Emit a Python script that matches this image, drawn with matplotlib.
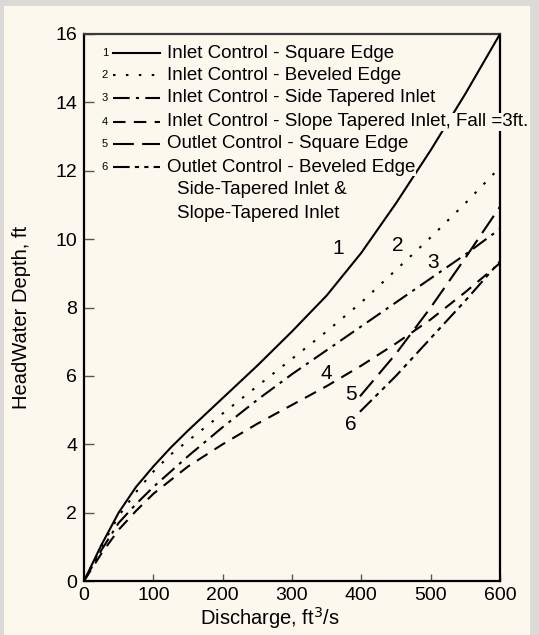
import matplotlib.pyplot as plt
from matplotlib.lines import Line2D
from matplotlib.patches import Rectangle

# discharge (ft3/s) and headwater depth (ft)
q_inlet = [0, 25, 50, 75, 100, 125, 150, 200, 250, 300, 350, 400, 450, 500, 550, 600]
hw_square = [0, 1.05, 2.0, 2.75, 3.35, 3.9, 4.4, 5.35, 6.3, 7.3, 8.35, 9.6, 11.05, 12.6, 14.25, 16.0]
hw_beveled = [0, 1.0, 1.9, 2.6, 3.2, 3.7, 4.1, 4.9, 5.7, 6.5, 7.3, 8.15, 9.1, 10.05, 11.05, 12.1]
hw_side = [0, 0.9, 1.7, 2.25, 2.75, 3.2, 3.65, 4.5, 5.3, 6.05, 6.75, 7.45, 8.15, 8.85, 9.55, 10.3]
hw_slope = [0, 0.8, 1.5, 2.05, 2.55, 2.95, 3.35, 4.0, 4.6, 5.15, 5.7, 6.3, 6.95, 7.65, 8.45, 9.3]

q_outlet = [398, 450, 500, 550, 600]
hw_out_square = [5.4, 6.65, 8.0, 9.45, 10.95]
hw_out_beveled = [4.95, 6.0, 7.1, 8.2, 9.35]

curve_nums = ['1', '2', '3', '4', '5', '6']
num_x = [366, 453, 503, 349, 385, 385]
num_y = [9.74, 9.8, 9.32, 6.07, 5.45, 4.57]

legend_labels = [
    'Inlet Control - Square Edge',
    'Inlet Control - Beveled Edge',
    'Inlet Control - Side Tapered Inlet',
    'Inlet Control - Slope Tapered Inlet, Fall =3ft.',
    'Outlet Control - Square Edge',
    'Outlet Control - Beveled Edge',
]
legend_extra = ['Side-Tapered Inlet &', 'Slope-Tapered Inlet']

cream = '#fcf8ee'
styles = [
    '-',
    (0, (1.2, 5)),
    (0, (8, 3, 1.5, 3)),
    (0, (6, 4)),
    (0, (10, 4)),
    (0, (8, 2.5, 2, 2.5, 2, 2.5)),
]

plt.rcParams['font.family'] = ['Liberation Sans', 'DejaVu Sans']

W, H = 539, 635
fig = plt.figure(figsize=(W / 100, H / 100), dpi=100)
fig.patch.set_facecolor('#dcdad6')
fig.patches.append(Rectangle((4 / W, 0), 526 / W, 1 - 6 / H, transform=fig.transFigure,
                             facecolor=cream, edgecolor='none', zorder=-5))

ax = fig.add_axes([84 / W, 1 - 581 / H, 416 / W, 547 / H])
ax.set_zorder(1)
ax.set_facecolor(cream)

series = [(q_inlet, hw_square), (q_inlet, hw_beveled), (q_inlet, hw_side),
          (q_inlet, hw_slope), (q_outlet, hw_out_square), (q_outlet, hw_out_beveled)]
for (xs, ys), ls in zip(series, styles):
    ax.plot(xs, ys, color='black', lw=1.5, linestyle=ls, zorder=3)

for t, x, y in zip(curve_nums, num_x, num_y):
    ax.text(x, y, t, fontsize=15, ha='center', va='center', zorder=4)

ax.set_xlim(0, 600)
ax.set_ylim(0, 16)
ax.set_xticks(range(0, 601, 100))
ax.set_yticks(range(0, 17, 2))
ax.tick_params(direction='in', length=7, width=1, color='#555555', labelsize=14, pad=5)
ax.tick_params(axis='x', length=5, pad=4)
for s in ax.spines.values():
    s.set_linewidth(1.6)
    s.set_color('black')
ax.spines['top'].set_color('#3a3a3a')

fig.text(22 / W, 1 - 317 / H, 'HeadWater Depth, ft', rotation=90, fontsize=14.5,
         ha='center', va='center')
fig.text(270 / W, 1 - 618 / H, 'Discharge, ft$^3$/s', fontsize=14.5, ha='center', va='center')

# legend drawn by hand, as in the original figure
rows = [53, 75, 98, 122, 144, 167]
for i, (lab, ls, py) in enumerate(zip(legend_labels, styles, rows)):
    fy = 1 - py / H
    fig.text(105 / W, fy, str(i + 1), fontsize=8, ha='center', va='center', zorder=6)
    fig.lines.append(Line2D([113 / W, 160 / W], [fy, fy], transform=fig.transFigure,
                            color='black', lw=1.5, linestyle=ls, zorder=6))
    fig.text(167 / W, fy, lab, fontsize=13.5, ha='left', va='center', zorder=6,
             bbox=dict(facecolor=cream, edgecolor='none', pad=0.5))
for lab, py in zip(legend_extra, [190, 213]):
    fig.text(177 / W, 1 - py / H, lab, fontsize=13.5, ha='left', va='center', zorder=6)

fig.savefig('out.png', dpi=100, facecolor=fig.get_facecolor())
